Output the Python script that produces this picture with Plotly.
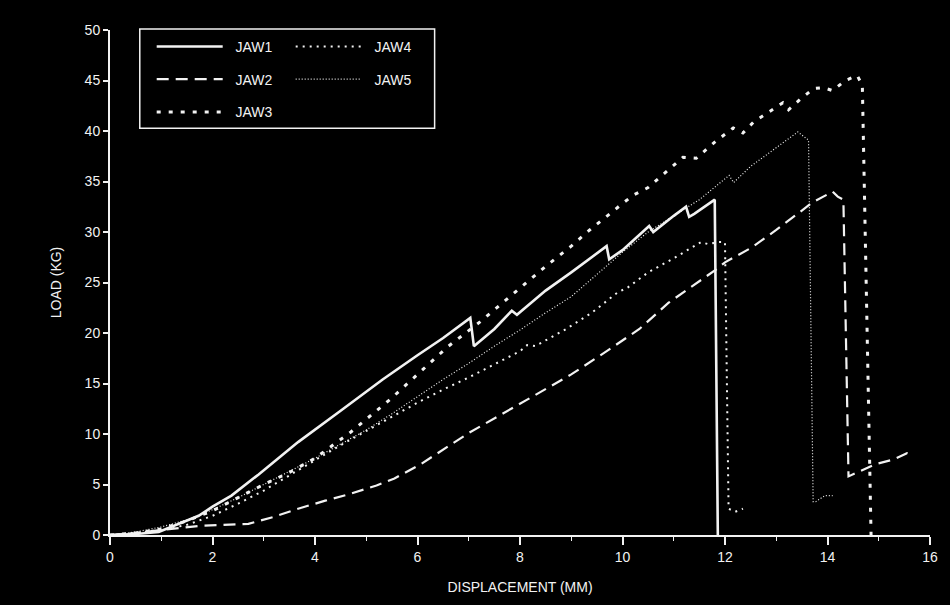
import plotly.graph_objects as go

# ---------------- data ----------------
jaw1_x = [0, 0.5, 0.95, 1.3, 1.73, 2.0, 2.37, 2.9, 3.67, 4.5, 5.32, 6.0, 6.5, 7.03,
          7.1, 7.5, 7.84, 7.94, 8.5, 9.0, 9.69, 9.74, 10.0, 10.52, 10.6, 11.0, 11.24,
          11.3, 11.4, 11.8, 11.86]
jaw1_y = [0, 0.1, 0.3, 1.0, 1.9, 2.8, 3.9, 6.0, 9.2, 12.3, 15.4, 17.8, 19.5, 21.5,
          18.7, 20.4, 22.2, 21.8, 24.2, 26.0, 28.6, 27.3, 28.2, 30.6, 30.0, 31.6, 32.5,
          31.5, 31.8, 33.2, 0]

jaw2_x = [0, 0.5, 1.0, 1.73, 2.2, 2.7, 3.2, 3.67, 4.2, 4.64, 5.2, 5.55, 6.06, 7.0,
          8.14, 9.0, 9.75, 10.33, 10.9, 11.83, 12.0, 12.5, 13.0, 13.7, 14.1, 14.2,
          14.31, 14.41, 14.93, 15.3, 15.55, 15.67]
jaw2_y = [0, 0.2, 0.5, 0.9, 1.0, 1.1, 1.8, 2.6, 3.4, 4.0, 4.9, 5.6, 7.0, 10.1,
          13.4, 15.9, 18.4, 20.4, 23.0, 26.3, 27.0, 28.4, 30.2, 32.9, 34.0, 33.5,
          33.2, 5.8, 7.0, 7.5, 8.1, 7.8]

jaw3_x = [0, 0.5, 1.0, 1.5, 2.0, 2.56, 3.0, 3.5, 4.0, 4.7, 5.46, 6.0, 6.58, 7.22,
          7.5, 8.0, 8.5, 9.0, 9.36, 10.02, 10.23, 10.5, 10.72, 10.95, 11.18, 11.44,
          11.8, 12.16, 12.35, 12.56, 13.13, 13.24, 13.48, 13.73, 13.92, 14.1, 14.35,
          14.58, 14.68, 14.85]
jaw3_y = [0, 0.2, 0.6, 1.4, 2.4, 3.85, 5.0, 6.2, 7.6, 10.2, 13.4, 15.9, 18.6, 21.1,
          22.3, 24.5, 26.6, 28.6, 30.2, 32.9, 33.7, 34.4, 35.4, 36.4, 37.4, 37.3,
          38.9, 40.3, 39.8, 40.9, 42.8, 42.1, 43.2, 44.2, 44.3, 44.0, 45.0,
          45.5, 44.5, 0]

jaw4_x = [0, 0.5, 1.0, 1.5, 2.0, 2.5, 3.0, 3.5, 4.0, 4.5, 5.0, 5.5, 6.0, 6.5, 7.0,
          7.5, 8.0, 8.14, 8.3, 8.9, 9.4, 9.9, 10.1, 10.5, 11.0, 11.53, 11.67, 11.88,
          12.0, 12.07, 12.2, 12.35]
jaw4_y = [0, 0.2, 0.5, 1.0, 1.9, 3.1, 4.4, 5.9, 7.4, 8.9, 10.3, 11.7, 13.1, 14.4, 15.6,
          16.9, 18.2, 18.8, 18.7, 20.4, 22.0, 24.0, 24.5, 26.0, 27.4, 29.0, 28.8, 29.0,
          29.0, 2.6, 2.3, 2.6]

jaw5_x = [0, 0.5, 1.0, 1.5, 2.0, 2.5, 3.0, 3.5, 4.0, 4.5, 5.0, 5.5, 6.0, 6.5, 7.0,
          7.5, 8.0, 8.5, 9.0, 9.5, 10.0, 10.5, 11.0, 11.5, 12.08, 12.17, 12.5, 13.0,
          13.42, 13.63, 13.72, 13.77, 13.95, 14.1]
jaw5_y = [0, 0.3, 0.8, 1.5, 2.5, 3.7, 5.0, 6.3, 7.6, 9.0, 10.4, 12.0, 13.7, 15.4, 17.0,
          18.7, 20.3, 22.0, 23.6, 25.8, 28.0, 30.0, 31.6, 33.2, 35.6, 34.9, 36.5, 38.3,
          39.9, 39.1, 3.3, 3.3, 3.9, 3.9]

series_names = ["JAW1", "JAW2", "JAW3", "JAW4", "JAW5"]
x_ticks = [0, 2, 4, 6, 8, 10, 12, 14, 16]
y_ticks = [0, 5, 10, 15, 20, 25, 30, 35, 40, 45, 50]
x_title = "DISPLACEMENT (MM)"
y_title = "LOAD (KG)"

FONT = "Liberation Sans, Arial, sans-serif"
WHITE = "#f2f2f2"
FS = 14
NBSP = "\u00a0\u00a0"

styles = [
    (dict(width=2.6, dash="solid"), "legend"),
    (dict(width=2.2, dash="12px,7px"), "legend2"),
    (dict(width=3.0, dash="4px,8px"), "legend3"),
    (dict(width=2.0, dash="2px,5px"), "legend4"),
    (dict(width=1.2, dash="1px,2px"), "legend5"),
]
data_x = [jaw1_x, jaw2_x, jaw3_x, jaw4_x, jaw5_x]
data_y = [jaw1_y, jaw2_y, jaw3_y, jaw4_y, jaw5_y]

fig = go.Figure()
for name, xs, ys, (ln, lg) in zip(series_names, data_x, data_y, styles):
    fig.add_trace(go.Scatter(x=xs, y=ys, mode="lines", name=NBSP + name,
                             line=dict(color=WHITE, **ln), legend=lg))

FIG_W, FIG_H = 950, 605
L, T = 110, 30
R = FIG_W - 936
B = FIG_H - 539
W, H = 936.0 - 110.0, 539.0 - 30.0

def px(xp):
    return (xp - 110) / W

def py(yp):
    return (539 - yp) / H

leg_common = dict(bgcolor="rgba(0,0,0,0)", borderwidth=0, xanchor="left",
                  yanchor="middle", itemwidth=66,
                  font=dict(family=FONT, size=FS, color=WHITE))
col1, col2 = px(152), px(292)
rows = [py(47), py(80), py(113)]

fig.update_layout(
    width=FIG_W, height=FIG_H,
    paper_bgcolor="black", plot_bgcolor="black",
    margin=dict(l=L, r=R, t=T, b=B),
    font=dict(family=FONT, size=FS, color=WHITE),
    showlegend=True,
    legend=dict(x=col1, y=rows[0], **leg_common),
    legend2=dict(x=col1, y=rows[1], **leg_common),
    legend3=dict(x=col1, y=rows[2], **leg_common),
    legend4=dict(x=col2, y=rows[0], **leg_common),
    legend5=dict(x=col2, y=rows[1], **leg_common),
    xaxis=dict(range=[0, 16], tickvals=x_ticks, ticktext=[str(v) for v in x_ticks],
               showgrid=False, zeroline=False, showline=True, linecolor=WHITE,
               linewidth=2, ticks="outside", ticklen=8, tickwidth=1.5, tickcolor=WHITE,
               minor=dict(dtick=1, ticks="outside", ticklen=4, tickcolor=WHITE, tickwidth=1),
               tickfont=dict(family=FONT, size=FS, color=WHITE),
               title=dict(text=x_title, font=dict(family=FONT, size=FS, color=WHITE),
                          standoff=18)),
    yaxis=dict(range=[0, 50], tickvals=y_ticks, ticktext=[str(v) for v in y_ticks],
               showgrid=False, zeroline=False, showline=True, linecolor=WHITE,
               linewidth=2, ticks="outside", ticklen=5, tickwidth=1.5, tickcolor=WHITE,
               tickfont=dict(family=FONT, size=FS, color=WHITE),
               title=dict(text=y_title, font=dict(family=FONT, size=FS, color=WHITE),
                          standoff=20)),
    shapes=[dict(type="rect", xref="paper", yref="paper",
                 x0=px(140), x1=px(437), y0=py(129), y1=py(29),
                 line=dict(color=WHITE, width=1.5))],
)

fig.write_html(
    "out.html",
    config={"displayModeBar": False},
    post_script="document.body.style.margin='0';document.body.style.background='black';"
                "document.body.style.overflow='hidden';",
)
